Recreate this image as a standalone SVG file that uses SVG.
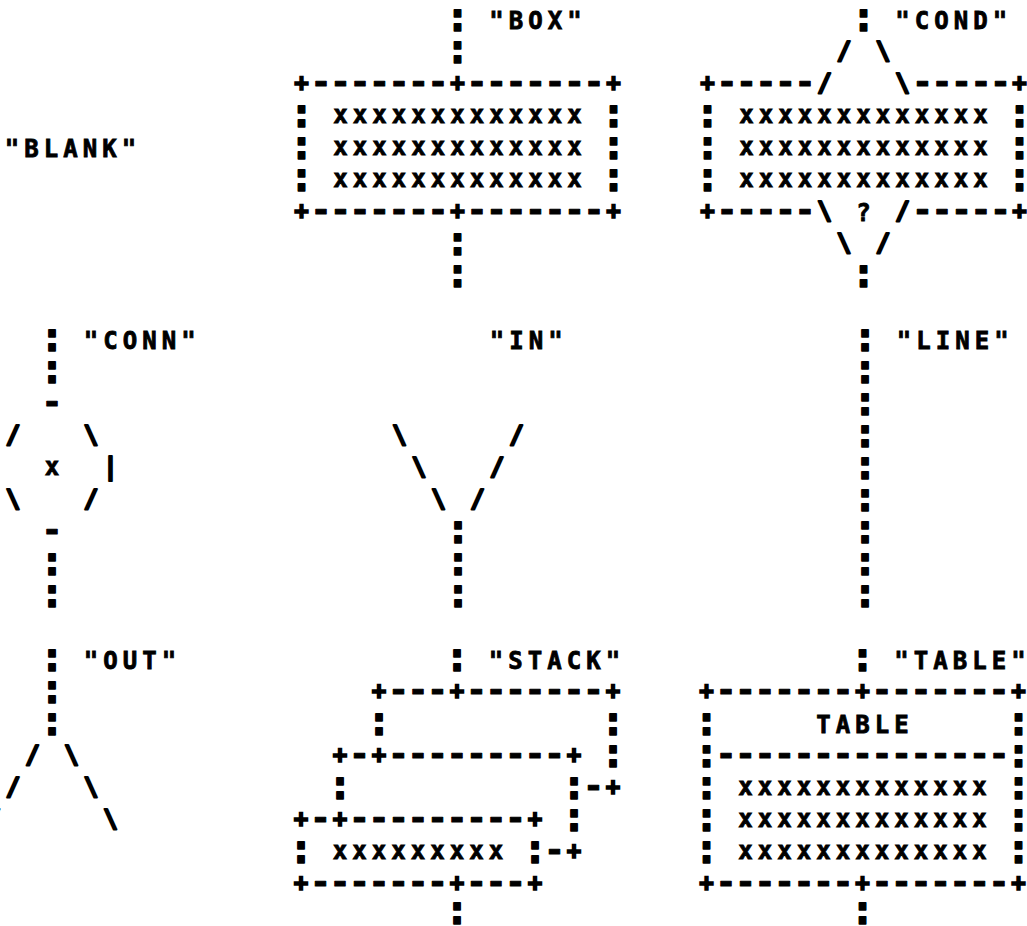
<svg xmlns="http://www.w3.org/2000/svg" width="1027" height="926" viewBox="0 0 1027 926" xml:space="preserve">
<style>
text{font-family:"DejaVu Sans Mono","Liberation Mono",monospace;font-weight:bold;fill:#000;white-space:pre;font-size:24px}
.t,.x,.p,.s{font-size:24px;letter-spacing:5.05px;stroke:#000}
.t,.x{stroke-width:0.8px}
.p{stroke-width:1.6px}
.s{stroke-width:2px;stroke-linejoin:round}
.c{font-size:40px;letter-spacing:-4.58px;stroke:#000;stroke-width:1.4px;stroke-linejoin:round}
.d{font-size:34px;letter-spacing:-0.97px;stroke:#000;stroke-width:1px;stroke-linejoin:round}
.e{letter-spacing:0}
</style>
<rect width="1027" height="926" fill="#fff"/>
<g id="blank">
<text class="t" x="4.78" y="156.7">"BLANK"</text>
</g>
<g id="box" transform="translate(457.5,0)">
<text><tspan class="c" x="-12.04" y="31">:</tspan><tspan class="t" x="12.28" y="28.7"> "BOX"</tspan></text>
<text class="c" x="-12.04" y="63">:</text>
<text><tspan class="p" x="-163.22" y="91.4">+</tspan><tspan class="d" x="-146.73" y="93.1">-------</tspan><tspan class="p" x="-7.22" y="91.4">+</tspan><tspan class="d" x="9.27" y="93.1">-------</tspan><tspan class="p" x="148.78" y="91.4">+</tspan></text>
<text><tspan class="c" x="-168.04" y="127">:</tspan><tspan class="x" x="-143.72" y="122.7"> xxxxxxxxxxxxx </tspan><tspan class="c" x="143.96" y="127">:</tspan></text>
<text><tspan class="c" x="-168.04" y="159">:</tspan><tspan class="x" x="-143.72" y="154.7"> xxxxxxxxxxxxx </tspan><tspan class="c" x="143.96" y="159">:</tspan></text>
<text><tspan class="c" x="-168.04" y="191">:</tspan><tspan class="x" x="-143.72" y="186.7"> xxxxxxxxxxxxx </tspan><tspan class="c" x="143.96" y="191">:</tspan></text>
<text><tspan class="p" x="-163.22" y="219.4">+</tspan><tspan class="d" x="-146.73" y="221.1">-------</tspan><tspan class="p" x="-7.22" y="219.4">+</tspan><tspan class="d" x="9.27" y="221.1">-------</tspan><tspan class="p" x="148.78" y="219.4">+</tspan></text>
<text class="c" x="-12.04" y="255">:</text>
<text class="c" x="-12.04" y="287">:</text>
</g>
<g id="cond" transform="translate(863.5,0)">
<text><tspan class="c" x="-12.04" y="31">:</tspan><tspan class="t" x="12.28" y="28.7"> "COND"</tspan></text>
<text class="s" x="-26.72" y="59.2">/ \</text>
<text><tspan class="p" x="-163.22" y="91.4">+</tspan><tspan class="d" x="-146.73" y="93.1">-----</tspan><tspan class="s" x="-46.22" y="91.2">/   \</tspan><tspan class="d" x="48.77" y="93.1">-----</tspan><tspan class="p e" x="148.78" y="91.4">+</tspan></text>
<text><tspan class="c" x="-168.04" y="127">:</tspan><tspan class="x" x="-143.72" y="122.7"> xxxxxxxxxxxxx </tspan><tspan class="c" x="143.96" y="127">:</tspan></text>
<text><tspan class="c" x="-168.04" y="159">:</tspan><tspan class="x" x="-143.72" y="154.7"> xxxxxxxxxxxxx </tspan><tspan class="c" x="143.96" y="159">:</tspan></text>
<text><tspan class="c" x="-168.04" y="191">:</tspan><tspan class="x" x="-143.72" y="186.7"> xxxxxxxxxxxxx </tspan><tspan class="c" x="143.96" y="191">:</tspan></text>
<text><tspan class="p" x="-163.22" y="219.4">+</tspan><tspan class="d" x="-146.73" y="221.1">-----</tspan><tspan class="s" x="-46.22" y="219.2">\ </tspan><tspan class="t" x="-7.22" y="220.7">? </tspan><tspan class="s" x="31.78" y="219.2">/</tspan><tspan class="d" x="48.77" y="221.1">-----</tspan><tspan class="p e" x="148.78" y="219.4">+</tspan></text>
<text class="s" x="-26.72" y="251.2">\ /</text>
<text class="c" x="-12.04" y="287">:</text>
</g>
<g id="conn" transform="translate(52,0)">
<text><tspan class="c" x="-12.04" y="351">:</tspan><tspan class="t" x="12.28" y="348.7"> "CONN"</tspan></text>
<text class="c" x="-12.04" y="383">:</text>
<text class="d" x="-10.23" y="413.1">-</text>
<text class="s" x="-46.22" y="443.2">/   \</text>
<text><tspan class="x" x="-7.22" y="474.7">x  </tspan><tspan class="s" x="51.28" y="475.2">|</tspan></text>
<text class="s" x="-46.22" y="507.2">\   /</text>
<text class="d" x="-10.23" y="541.1">-</text>
<text class="c" x="-12.04" y="575">:</text>
<text class="c" x="-12.04" y="607">:</text>
</g>
<g id="in" transform="translate(458,0)">
<text class="t" x="31.78" y="348.7">"IN"</text>
<text class="s" x="-65.72" y="443.2">\     /</text>
<text class="s" x="-46.22" y="475.2">\   /</text>
<text class="s" x="-26.72" y="507.2">\ /</text>
<text class="c" x="-12.04" y="543">:</text>
<text class="c" x="-12.04" y="575">:</text>
<text class="c" x="-12.04" y="607">:</text>
</g>
<g id="line" transform="translate(865,0)">
<text><tspan class="c" x="-12.04" y="351">:</tspan><tspan class="t" x="12.28" y="348.7"> "LINE"</tspan></text>
<text class="c" x="-12.04" y="383">:</text>
<text class="c" x="-12.04" y="415">:</text>
<text class="c" x="-12.04" y="447">:</text>
<text class="c" x="-12.04" y="479">:</text>
<text class="c" x="-12.04" y="511">:</text>
<text class="c" x="-12.04" y="543">:</text>
<text class="c" x="-12.04" y="575">:</text>
<text class="c" x="-12.04" y="607">:</text>
</g>
<g id="out" transform="translate(52,0)">
<text><tspan class="c" x="-12.04" y="671">:</tspan><tspan class="t" x="12.28" y="668.7"> "OUT"</tspan></text>
<text class="c" x="-12.04" y="703">:</text>
<text class="c" x="-12.04" y="735">:</text>
<text class="s" x="-26.72" y="763.2">/ \</text>
<text class="s" x="-46.22" y="795.2">/   \</text>
<text class="s" x="-65.72" y="827.2">/     \</text>
</g>
<g id="stack" transform="translate(457,0)">
<text><tspan class="c" x="-12.04" y="671">:</tspan><tspan class="t" x="12.28" y="668.7"> "STACK"</tspan></text>
<text><tspan class="p" x="-85.22" y="699.4">+</tspan><tspan class="d" x="-68.73" y="701.1">---</tspan><tspan class="p" x="-7.22" y="699.4">+</tspan><tspan class="d" x="9.27" y="701.1">-------</tspan><tspan class="p" x="148.78" y="699.4">+</tspan></text>
<text class="c" x="-90.04" y="735">:           :</text>
<text><tspan class="p" x="-124.22" y="763.4">+</tspan><tspan class="d" x="-107.73" y="765.1">-</tspan><tspan class="p" x="-85.22" y="763.4">+</tspan><tspan class="d" x="-68.73" y="765.1">---------</tspan><tspan class="p" x="109.78" y="763.4">+ </tspan><tspan class="c" x="143.96" y="767">:</tspan></text>
<text><tspan class="c" x="-129.04" y="799">:           :</tspan><tspan class="d" x="126.27" y="797.1">-</tspan><tspan class="p" x="148.78" y="795.4">+</tspan></text>
<text><tspan class="p" x="-163.22" y="827.4">+</tspan><tspan class="d" x="-146.73" y="829.1">-</tspan><tspan class="p" x="-124.22" y="827.4">+</tspan><tspan class="d" x="-107.73" y="829.1">---------</tspan><tspan class="p" x="70.78" y="827.4">+ </tspan><tspan class="c" x="104.96" y="831">:</tspan></text>
<text><tspan class="c" x="-168.04" y="863">:</tspan><tspan class="x" x="-143.72" y="858.7"> xxxxxxxxx </tspan><tspan class="c" x="65.96" y="863">:</tspan><tspan class="d" x="87.27" y="861.1">-</tspan><tspan class="p" x="109.78" y="859.4">+</tspan></text>
<text><tspan class="p" x="-163.22" y="891.4">+</tspan><tspan class="d" x="-146.73" y="893.1">-------</tspan><tspan class="p" x="-7.22" y="891.4">+</tspan><tspan class="d" x="9.27" y="893.1">---</tspan><tspan class="p" x="70.78" y="891.4">+</tspan></text>
<text class="c" x="-12.04" y="924">:</text>
</g>
<g id="table" transform="translate(862.5,0)">
<text><tspan class="c" x="-12.04" y="671">:</tspan><tspan class="t" x="12.28" y="668.7"> "TABLE</tspan><tspan class="t e" x="148.78" y="668.7">"</tspan></text>
<text><tspan class="p" x="-163.22" y="699.4">+</tspan><tspan class="d" x="-146.73" y="701.1">-------</tspan><tspan class="p" x="-7.22" y="699.4">+</tspan><tspan class="d" x="9.27" y="701.1">-------</tspan><tspan class="p e" x="148.78" y="699.4">+</tspan></text>
<text><tspan class="c" x="-168.04" y="735">:</tspan><tspan class="t" x="-143.72" y="732.7">     TABLE     </tspan><tspan class="c" x="143.96" y="735">:</tspan></text>
<text><tspan class="c" x="-168.04" y="767">:</tspan><tspan class="d" x="-146.73" y="765.1">---------------</tspan><tspan class="c" x="143.96" y="767">:</tspan></text>
<text><tspan class="c" x="-168.04" y="799">:</tspan><tspan class="x" x="-143.72" y="794.7"> xxxxxxxxxxxxx </tspan><tspan class="c" x="143.96" y="799">:</tspan></text>
<text><tspan class="c" x="-168.04" y="831">:</tspan><tspan class="x" x="-143.72" y="826.7"> xxxxxxxxxxxxx </tspan><tspan class="c" x="143.96" y="831">:</tspan></text>
<text><tspan class="c" x="-168.04" y="863">:</tspan><tspan class="x" x="-143.72" y="858.7"> xxxxxxxxxxxxx </tspan><tspan class="c" x="143.96" y="863">:</tspan></text>
<text><tspan class="p" x="-163.22" y="891.4">+</tspan><tspan class="d" x="-146.73" y="893.1">-------</tspan><tspan class="p" x="-7.22" y="891.4">+</tspan><tspan class="d" x="9.27" y="893.1">-------</tspan><tspan class="p e" x="148.78" y="891.4">+</tspan></text>
<text class="c" x="-12.04" y="924">:</text>
</g>
</svg>
